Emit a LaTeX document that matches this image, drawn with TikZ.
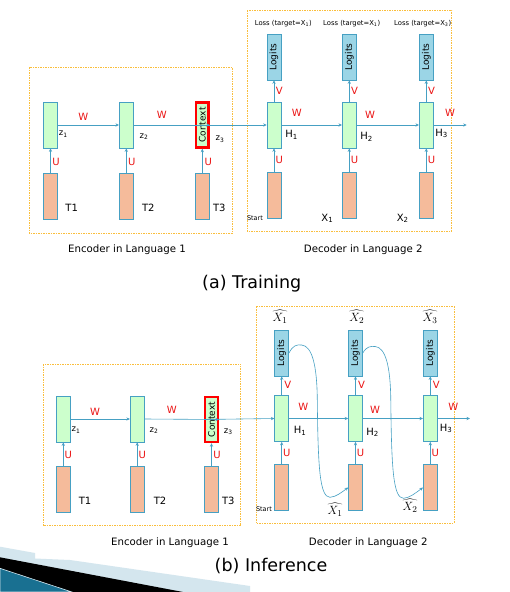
\documentclass[tikz,border=0pt]{standalone}
\usepackage{fontspec}
\setmainfont{DejaVu Sans}
\usetikzlibrary{arrows.meta}
\definecolor{bord}{RGB}{70,160,195}
\definecolor{lgreen}{RGB}{204,255,204}
\definecolor{salmon}{RGB}{245,187,155}
\definecolor{logitc}{RGB}{155,213,230}
\definecolor{lblred}{RGB}{235,20,20}
\definecolor{dashor}{RGB}{250,190,60}
\definecolor{decoblue}{RGB}{212,230,238}
\definecolor{decoteal}{RGB}{25,112,145}
\newcommand\szBig{\fontsize{17.5}{20}\selectfont}
\newcommand\szCap{\fontsize{10.2}{12}\selectfont}
\newcommand\szLab{\fontsize{10}{12}\selectfont}
\newcommand\szBox{\fontsize{9}{10}\selectfont}
\newcommand\szZ{\fontsize{8.5}{10}\selectfont}
\newcommand\szLoss{\fontsize{6.8}{8}\selectfont}
\newcommand\szStart{\fontsize{6.5}{8}\selectfont}
\newcommand\szHat{\fontsize{12.5}{14}\selectfont}
\begin{document}
\begin{tikzpicture}[x=1pt,y=-1pt,
  cell/.style={draw=bord, line width=0.6pt, inner sep=0pt, minimum width=14pt, minimum height=46pt},
  gcell/.style={cell, fill=lgreen},
  scell/.style={cell, fill=salmon},
  lcell/.style={draw=bord, line width=0.6pt, inner sep=0pt, fill=logitc, rotate=90, minimum width=46pt, minimum height=14pt, font=\szBox},
  ctx/.style={draw=red, line width=2.4pt, inner sep=0pt, fill=lgreen, rotate=90, minimum width=45pt, minimum height=12.5pt, font=\szBox},
  arr/.style={draw=bord, line width=0.6pt, -{Stealth[length=3.5pt,width=3.2pt]}},
  dbox/.style={draw=dashor, line width=0.5pt, dash pattern=on 1.5pt off 1pt},
  red lbl/.style={text=lblred, font=\szLab, inner sep=0pt},
  blk lbl/.style={font=\szLab, inner sep=0pt},
  z lbl/.style={font=\szZ, inner sep=0pt},
  hat lbl/.style={font=\szHat, inner sep=0pt},
  captxt/.style={font=\szCap, inner sep=0pt},
  bigtxt/.style={font=\szBig, inner sep=0pt}
]
\useasboundingbox (0,0) rectangle (510,592);
\fill[white] (0,0) rectangle (510,592);

% corner decoration
\fill[decoblue] (0,546.7) -- (35,553) -- (35,558.5) -- (70,560) -- (250,586) -- (250,592) -- (0,592) -- cycle;
\fill[black] (0,557.3) -- (183,592) -- (0,592) -- cycle;
\fill[decoteal, draw=decoblue, line width=0.6pt] (0,568.3) -- (72,592) -- (0,592) -- cycle;

%================ (a) Training ================
\draw[dbox] (29,67) rectangle (232,233);
\draw[dbox] (247.3,10) rectangle (451.7,231);

% encoder
\node[gcell] (eG1) at (50.5,125) {};
\node[gcell] (eG2) at (126.3,125) {};
\node[ctx] (eC) at (202.3,125) {Context};
\node[scell] (eS1) at (50.5,196) {};
\node[scell] (eS2) at (126.3,196) {};
\node[scell] (eS3) at (202.3,196) {};
\draw[arr] (eS1.north) -- (eG1.south);
\draw[arr] (eS2.north) -- (eG2.south);
\draw[arr] (eS3.north) -- (eC.west);
\draw[arr] (eG1.east) -- (eG2.west);
\draw[arr] (eG2.east) -- (eC.south);
\node[red lbl] (eW1) at (83.3,116.7) {W};
\node[red lbl] (eW2) at (161.7,115) {W};
\node[red lbl] (eU1) at (56,161.7) {U};
\node[red lbl] (eU2) at (131.7,161.7) {U};
\node[red lbl] (eU3) at (208.3,161.7) {U};
\node[z lbl] (ez1) at (63.3,134) {z\textsubscript{1}};
\node[z lbl] (ez2) at (144,136.7) {z\textsubscript{2}};
\node[z lbl] (ez3) at (220,139) {z\textsubscript{3}};
\node[blk lbl] (eT1) at (71.7,207.7) {T1};
\node[blk lbl] (eT2) at (148.3,207.7) {T2};
\node[blk lbl] (eT3) at (219.3,207.7) {T3};

% decoder
\node[gcell] (dG1) at (274,125) {};
\node[gcell] (dG2) at (349.3,125) {};
\node[gcell] (dG3) at (426.3,125) {};
\node[scell] (dS1) at (274,195) {};
\node[scell] (dS2) at (349.3,195) {};
\node[scell] (dS3) at (426.3,195) {};
\node[lcell] (dL1) at (274,57) {Logits};
\node[lcell] (dL2) at (349.3,57) {Logits};
\node[lcell] (dL3) at (426.3,57) {Logits};
\coordinate (dEnd) at (466.7,125);
\draw[arr] (eC.north) -- (dG1.west);
\draw[arr] (dG1.east) -- (dG2.west);
\draw[arr] (dG2.east) -- (dG3.west);
\draw[arr] (dG3.east) -- (dEnd);
\foreach \i in {1,2,3}{
  \draw[arr] (dS\i.north) -- (dG\i.south);
  \draw[arr] (dG\i.north) -- (dL\i.west);
}
\node[font=\szLoss, inner sep=0pt] (loss1) at (283.3,23.3) {Loss (target=X\textsubscript{1})};
\node[font=\szLoss, inner sep=0pt] (loss2) at (351.7,23.3) {Loss (target=X\textsubscript{1})};
\node[font=\szLoss, inner sep=0pt] (loss3) at (422.7,23.3) {Loss (target=X\textsubscript{3})};
\node[red lbl] (dV1) at (279.3,91) {V};
\node[red lbl] (dV2) at (354.6,91) {V};
\node[red lbl] (dV3) at (431.6,91) {V};
\node[red lbl] (dU1) at (279.3,160) {U};
\node[red lbl] (dU2) at (354.6,160) {U};
\node[red lbl] (dU3) at (431.6,160) {U};
\node[red lbl] (dW1) at (296.7,113.3) {W};
\node[red lbl] (dW2) at (370,115) {W};
\node[red lbl] (dW3) at (450,113.3) {W};
\node[blk lbl] (dH1) at (291.7,135) {H\textsubscript{1}};
\node[blk lbl] (dH2) at (366.7,136.7) {H\textsubscript{2}};
\node[blk lbl] (dH3) at (441.7,133.3) {H\textsubscript{3}};
\node[font=\szStart, inner sep=0pt] (dStart) at (255,218.5) {Start};
\node[blk lbl] (dX1) at (327.3,218.3) {X\textsubscript{1}};
\node[blk lbl] (dX2) at (402.7,218.3) {X\textsubscript{2}};
\node[captxt] (encA) at (127,249.3) {Encoder in Language 1};
\node[captxt] (decA) at (363.3,249.3) {Decoder in Language 2};
\node[bigtxt] (tA) at (251.7,283.3) {(a) Training};

%================ (b) Inference ================
\draw[dbox] (43.3,364) rectangle (240.7,525.7);
\draw[dbox] (256,306.7) rectangle (454,523.3);

\node[gcell] (bG1) at (63.3,419) {};
\node[gcell] (bG2) at (137.2,419) {};
\node[ctx] (bC) at (211.5,419.5) {Context};
\node[scell] (bS1) at (63.3,489) {};
\node[scell] (bS2) at (137.2,489) {};
\node[scell] (bS3) at (211.5,489) {};
\draw[arr] (bS1.north) -- (bG1.south);
\draw[arr] (bS2.north) -- (bG2.south);
\draw[arr] (bS3.north) -- (bC.west);
\draw[arr] (bG1.east) -- (bG2.west);
\draw[arr] (bG2.east) -- (bC.south);
\node[red lbl] (bW1) at (95,411.7) {W};
\node[red lbl] (bW2) at (171.7,410) {W};
\node[red lbl] (bU1) at (68.3,455) {U};
\node[red lbl] (bU2) at (142.2,455) {U};
\node[red lbl] (bU3) at (217,455) {U};
\node[z lbl] (bz1) at (76,430) {z\textsubscript{1}};
\node[z lbl] (bz2) at (154,430.7) {z\textsubscript{2}};
\node[z lbl] (bz3) at (228.3,431.7) {z\textsubscript{3}};
\node[blk lbl] (bT1) at (85,501) {T1};
\node[blk lbl] (bT2) at (160,501) {T2};
\node[blk lbl] (bT3) at (228.3,501) {T3};

\node[gcell] (bdG1) at (281.7,418.5) {};
\node[gcell] (bdG2) at (355.5,418.5) {};
\node[gcell] (bdG3) at (430.3,418.5) {};
\node[scell] (bdS1) at (281.7,487.5) {};
\node[scell] (bdS2) at (355.5,487.5) {};
\node[scell] (bdS3) at (430.3,487.5) {};
\node[lcell] (bdL1) at (281.7,353) {Logits};
\node[lcell] (bdL2) at (355.5,353) {Logits};
\node[lcell] (bdL3) at (430.3,353) {Logits};
\coordinate (bdEnd) at (470,418.5);
\draw[arr] (bC.north) -- (bdG1.west);
\draw[arr] (bdG1.east) -- (bdG2.west);
\draw[arr] (bdG2.east) -- (bdG3.west);
\draw[arr] (bdG3.east) -- (bdEnd);
\foreach \i in {1,2,3}{
  \draw[arr] (bdS\i.north) -- (bdG\i.south);
  \draw[arr] (bdG\i.north) -- (bdL\i.west);
}
\draw[arr] (bdL1.south) .. controls (293,345) and (297,344.5) .. (301.7,345)
  .. controls (312,346) and (317,365) .. (317.3,400)
  .. controls (318,470) and (320,497) .. (330,497.3)
  .. controls (336,497) and (342,492) .. (bdS2.west);
\draw[arr] (bdL2.south) .. controls (366.5,346.5) and (370.5,346) .. (375.2,346.5)
  .. controls (385.5,347.5) and (390.5,366) .. (390.8,401)
  .. controls (391.5,471) and (393.5,498) .. (403.5,498.3)
  .. controls (409.5,498) and (415.5,493) .. (bdS3.west);
\node[hat lbl] (hX1) at (280,317) {$\widehat{X_1}$};
\node[hat lbl] (hX2) at (356.7,317) {$\widehat{X_2}$};
\node[hat lbl] (hX3) at (430,317) {$\widehat{X_3}$};
\node[red lbl] (bdV1) at (287.7,385) {V};
\node[red lbl] (bdV2) at (361.5,385) {V};
\node[red lbl] (bdV3) at (436.3,385) {V};
\node[red lbl] (bdU1) at (286.7,453.3) {U};
\node[red lbl] (bdU2) at (360.5,453.3) {U};
\node[red lbl] (bdU3) at (435.3,453.3) {U};
\node[red lbl] (bdW1) at (303.3,407.3) {W};
\node[red lbl] (bdW2) at (375,410) {W};
\node[red lbl] (bdW3) at (453.3,406.7) {W};
\node[blk lbl] (bdH1) at (300,430.7) {H\textsubscript{1}};
\node[blk lbl] (bdH2) at (372.7,432.3) {H\textsubscript{2}};
\node[blk lbl] (bdH3) at (446,428.3) {H\textsubscript{3}};
\node[font=\szStart, inner sep=0pt] (bdStart) at (264,509) {Start};
\node[hat lbl] (hb1) at (335,510) {$\widehat{X_1}$};
\node[hat lbl] (hb2) at (410,506) {$\widehat{X_2}$};
\node[captxt] (encB) at (170,542.3) {Encoder in Language 1};
\node[captxt] (decB) at (368.3,542.7) {Decoder in Language 2};
\node[bigtxt] (tB) at (271,566) {(b) Inference};
\end{tikzpicture}
\end{document}
